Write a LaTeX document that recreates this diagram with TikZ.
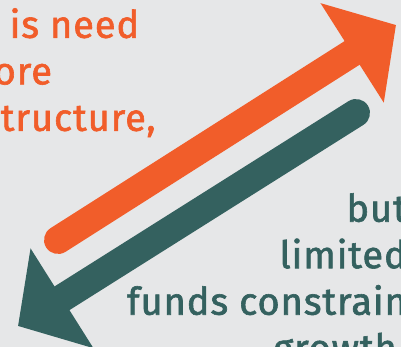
\documentclass[tikz,border=0pt]{standalone}
\usepackage{fontspec}
\setmainfont{Fira Sans}[FakeBold=1.6,LetterSpace=2.4]
\usetikzlibrary{arrows.meta}
\definecolor{flame}{HTML}{F15D2A}
\definecolor{pine}{HTML}{34615F}
\definecolor{paper}{HTML}{E6E7E8}
\tikzset{
	%Define style for the two big arrows
	bigArrow/.style={
		line width=28pt,
		line cap=round,
		-{Triangle[length=52pt,width=115pt]}},
	% Define style for the captions
	caption/.style={
		font=\fontsize{38}{46.5}\selectfont,
		inner sep=0pt}
}

\begin{document}
\begin{tikzpicture}[x=1pt,y=-1pt]
	
	%background
	\fill[paper] (0,0) rectangle (401,347);
	\useasboundingbox (0,0) rectangle (401,347);
	\clip (0,0) rectangle (401,347);
	
	%captions
	\node[caption, text=flame, align=left, anchor=north west] (needText) at (-102,8) {There is need\\for more\\infrastructure,};
	\node[caption, text=pine, align=right, anchor=north east] (fundsText) at (407,193) {but\\limited\\funds constrain\\growth.};
	
	%arrow ends
	\coordinate (upTail) at (58,240);
	\coordinate (upTip) at (396,25);
	\coordinate (downTail) at (356,113);
	\coordinate (downTip) at (18,326);
	
	%arrows
	\draw[bigArrow, flame] (upTail) -- (upTip);
	\draw[bigArrow, pine] (downTail) -- (downTip);
	
\end{tikzpicture}
\end{document}
